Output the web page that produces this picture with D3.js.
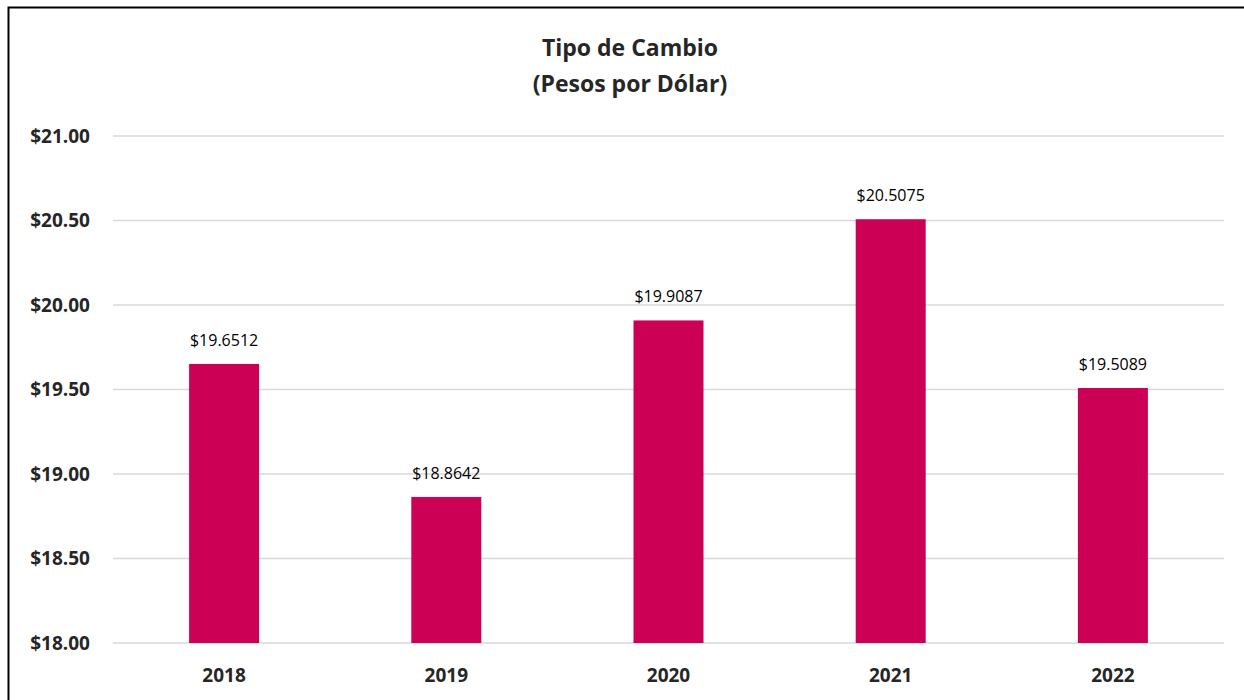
<!DOCTYPE html>
<html>
<head>
<meta charset="utf-8">
<script src="https://cdn.jsdelivr.net/npm/d3@7"></script>
<style>
  body { margin: 0; background: #fff; }
  svg { display: block; font-family: "Open Sans", "Noto Sans", sans-serif; }
</style>
</head>
<body>
<svg id="chart"></svg>
<script>
const years = ['2018', '2019', '2020', '2021', '2022'];
const rates = [19.6512, 18.8642, 19.9087, 20.5075, 19.5089];
const yTicks = [18, 18.5, 19, 19.5, 20, 20.5, 21];
const titleLines = ['Tipo de Cambio', '(Pesos por Dólar)'];

const svgWidth = 1244;
const svgHeight = 700;
const margin = {top: 136, right: 20, bottom: 57, left: 113};
const barColor = '#cc0055';

const svg = d3.select('#chart')
    .attr('width', svgWidth)
    .attr('height', svgHeight);

// frame (left + top edges visible)
svg.append('path')
    .attr('d', `M8.5,${svgHeight} V7.5 H${svgWidth}`)
    .attr('fill', 'none')
    .attr('stroke', '#000')
    .attr('stroke-width', 2);

const x = d3.scaleBand()
    .domain(years)
    .range([margin.left, svgWidth - margin.right])
    .paddingInner(0.685)
    .paddingOuter(0.3425);

const y = d3.scaleLinear()
    .domain([18, 21])
    .range([svgHeight - margin.bottom, margin.top]);

// title
svg.append('g')
    .selectAll('text')
    .data(titleLines)
    .join('text')
    .attr('x', 630)
    .attr('y', (d, i) => 56 + i * 36)
    .attr('text-anchor', 'middle')
    .attr('font-size', 23)
    .attr('font-weight', 'bold')
    .attr('fill', '#262626')
    .text(d => d);

// gridlines
svg.append('g')
    .selectAll('line')
    .data(yTicks)
    .join('line')
    .attr('x1', margin.left)
    .attr('x2', svgWidth - margin.right)
    .attr('y1', d => y(d))
    .attr('y2', d => y(d))
    .attr('stroke', '#d9d9d9')
    .attr('stroke-width', 1.5);

// y axis labels
svg.append('g')
    .selectAll('text')
    .data(yTicks)
    .join('text')
    .attr('x', 90)
    .attr('y', d => y(d))
    .attr('dy', '0.35em')
    .attr('text-anchor', 'end')
    .attr('font-size', 19)
    .attr('font-weight', 'bold')
    .attr('fill', '#262626')
    .text(d => '$' + d3.format('.2f')(d));

// bars
svg.append('g')
    .selectAll('rect')
    .data(rates)
    .join('rect')
    .attr('x', (d, i) => x(years[i]))
    .attr('width', x.bandwidth())
    .attr('y', d => y(d))
    .attr('height', d => y(18) - y(d))
    .attr('fill', barColor);

// value labels
svg.append('g')
    .selectAll('text')
    .data(rates)
    .join('text')
    .attr('x', (d, i) => x(years[i]) + x.bandwidth() / 2)
    .attr('y', d => y(d) - 18)
    .attr('text-anchor', 'middle')
    .attr('font-size', 16)
    .attr('fill', '#000')
    .text(d => '$' + d3.format('.4f')(d));

// x axis labels
svg.append('g')
    .selectAll('text')
    .data(years)
    .join('text')
    .attr('x', d => x(d) + x.bandwidth() / 2)
    .attr('y', 682)
    .attr('text-anchor', 'middle')
    .attr('font-size', 19)
    .attr('font-weight', 'bold')
    .attr('fill', '#262626')
    .text(d => d);
</script>
</body>
</html>
